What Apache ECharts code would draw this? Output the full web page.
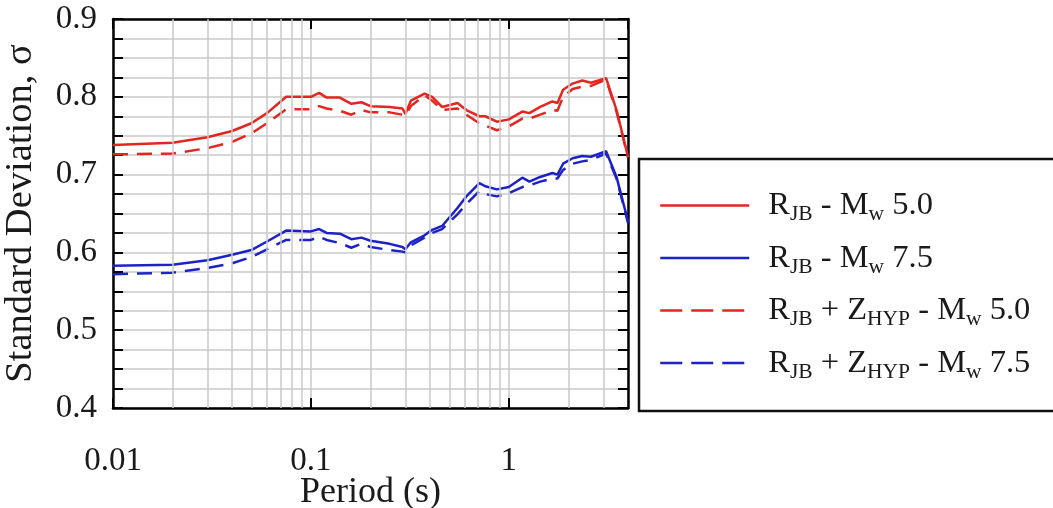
<!DOCTYPE html>
<html>
<head>
<meta charset="utf-8">
<script src="https://cdn.jsdelivr.net/npm/echarts@6/dist/echarts.min.js"></script>
<style>
html,body{margin:0;padding:0;background:#fff;}
#chart{width:1053px;height:508px;}
</style>
</head>
<body>
<div id="chart"></div>
<script>
// ---- data ----
var periods = [0.01, 0.02, 0.03, 0.04, 0.05, 0.06, 0.075, 0.1, 0.11, 0.12, 0.14, 0.16, 0.18, 0.2, 0.25, 0.29, 0.30, 0.32, 0.375, 0.41, 0.46, 0.55, 0.61, 0.71, 0.76, 0.87, 1.0, 1.17, 1.27, 1.44, 1.66, 1.76, 1.88, 2.1, 2.35, 2.6, 3.1, 3.5, 4.0];
var rjbMw50 = [0.738, 0.741, 0.748, 0.756, 0.766, 0.779, 0.800, 0.800, 0.805, 0.799, 0.799, 0.791, 0.793, 0.788, 0.787, 0.785, 0.778, 0.795, 0.804, 0.800, 0.787, 0.792, 0.783, 0.775, 0.775, 0.768, 0.771, 0.781, 0.779, 0.787, 0.794, 0.792, 0.809, 0.817, 0.821, 0.818, 0.824, 0.783, 0.723];
var rjbMw75 = [0.583, 0.584, 0.590, 0.597, 0.603, 0.614, 0.628, 0.627, 0.630, 0.625, 0.624, 0.617, 0.619, 0.615, 0.611, 0.607, 0.604, 0.613, 0.622, 0.629, 0.634, 0.657, 0.672, 0.689, 0.685, 0.681, 0.684, 0.696, 0.691, 0.697, 0.702, 0.700, 0.714, 0.721, 0.724, 0.723, 0.730, 0.697, 0.640];
var rjbZhypMw50 = [0.726, 0.727, 0.734, 0.742, 0.753, 0.766, 0.784, 0.784, 0.788, 0.785, 0.782, 0.777, 0.783, 0.780, 0.780, 0.777, 0.776, 0.788, 0.802, 0.795, 0.783, 0.785, 0.777, 0.766, 0.763, 0.757, 0.762, 0.772, 0.772, 0.777, 0.783, 0.782, 0.800, 0.810, 0.813, 0.814, 0.822, 0.781, 0.722];
var rjbZhypMw75 = [0.572, 0.574, 0.580, 0.586, 0.594, 0.604, 0.616, 0.616, 0.620, 0.616, 0.612, 0.606, 0.611, 0.607, 0.603, 0.601, 0.600, 0.609, 0.619, 0.625, 0.630, 0.649, 0.662, 0.679, 0.675, 0.672, 0.676, 0.684, 0.686, 0.691, 0.695, 0.695, 0.706, 0.714, 0.717, 0.719, 0.727, 0.695, 0.638];

var seriesNames = ['RJB - Mw 5.0', 'RJB - Mw 7.5', 'RJB + ZHYP - Mw 5.0', 'RJB + ZHYP - Mw 7.5'];
var legendLabels = [
  '{g|}{m|R}{s|JB}{m| - M}{s|w}{m| 5.0}',
  '{g|}{m|R}{s|JB}{m| - M}{s|w}{m| 7.5}',
  '{g|}{m|R}{s|JB}{m| + Z}{s|HYP}{m| - M}{s|w}{m| 5.0}',
  '{g|}{m|R}{s|JB}{m| + Z}{s|HYP}{m| - M}{s|w}{m| 7.5}'
];
var xTickValues = [0.01, 0.1, 1];
var yTickValues = [0.4, 0.5, 0.6, 0.7, 0.8, 0.9];
var xMinorGrid = [0.02, 0.03, 0.04, 0.05, 0.06, 0.07, 0.08, 0.09, 0.2, 0.3, 0.4, 0.5, 0.6, 0.7, 0.8, 0.9, 2, 3];

// ---- chart ----
var FONT = '"Liberation Serif", "Times New Roman", serif';
var RED = '#e3261f', BLUE = '#1c22c8', GRID = '#c9c9c9', INK = '#1a1a1a';
function pairs(vals){ return periods.map(function(p,i){ return [p, vals[i]]; }); }
var seriesVals = [rjbMw50, rjbMw75, rjbZhypMw50, rjbZhypMw75];
var colors = [RED, BLUE, RED, BLUE];
var dashed = [false, false, true, true];

var chart = echarts.init(document.getElementById('chart'), null, {renderer:'canvas'});
var axisLineStyle = {color:'#000', width:2.5};
var tickStyle = {color:'#000', width:2};

var series = [{
  type:'line', name:'_grid', data:[], z:1, silent:true,
  markLine:{ silent:true, symbol:['none','none'], label:{show:false},
    lineStyle:{color:GRID, width:1.5, type:'solid'}, animation:false,
    data: xMinorGrid.map(function(v){ return {xAxis:v}; }) }
}];
seriesVals.forEach(function(vals, i){
  series.push({
    type:'line', name:seriesNames[i], data:pairs(vals), symbol:'none', showSymbol:false, z:3,
    lineStyle:{color:colors[i], width:2.5, type: dashed[i] ? [15,9] : 'solid'},
    itemStyle:{color:colors[i], opacity:0}
  });
});

var option = {
  animation:false,
  backgroundColor:'#fff',
  grid:{left:113, right:425, top:19, bottom:100, containLabel:false, outerBoundsMode:'none'},
  xAxis:[{
    type:'log', logBase:10, min:0.01, max:4, position:'bottom',
    name:'Period (s)', nameLocation:'middle', nameGap:67, nameMoveOverlap:false,
    nameTextStyle:{fontFamily:FONT, fontSize:36, color:INK},
    axisLine:{show:true, lineStyle:axisLineStyle},
    axisTick:{show:true, inside:true, length:10, lineStyle:tickStyle},
    axisLabel:{show:true, margin:37, fontFamily:FONT, fontSize:33, color:INK, showMaxLabel:false,
      formatter:function(v){ var r = +(+v).toPrecision(3); return xTickValues.indexOf(r) >= 0 ? String(r) : ''; }},
    splitLine:{show:true, lineStyle:{color:GRID, width:1.5}}
  },{
    type:'log', logBase:10, min:0.01, max:4, position:'top',
    axisLine:{show:true, lineStyle:axisLineStyle},
    axisTick:{show:true, inside:true, length:10, lineStyle:tickStyle},
    axisLabel:{show:false}, splitLine:{show:false}
  }],
  yAxis:[{
    type:'value', min:0.4, max:0.9, interval:0.1, position:'left',
    name:'Standard Deviation, σ', nameLocation:'middle', nameGap:73, nameRotate:90,
    nameTextStyle:{fontFamily:FONT, fontSize:38.5, color:INK},
    axisLine:{show:true, lineStyle:axisLineStyle},
    axisTick:{show:true, inside:true, length:10, lineStyle:tickStyle},
    minorTick:{show:true, splitNumber:4, length:10, lineStyle:tickStyle},
    axisLabel:{show:true, margin:16, fontFamily:FONT, fontSize:33, color:INK,
      formatter:function(v){ var r = +(+v).toFixed(1); return yTickValues.indexOf(r) >= 0 ? r.toFixed(1) : ''; }},
    splitLine:{show:true, lineStyle:{color:GRID, width:1.5}},
    minorSplitLine:{show:true, lineStyle:{color:GRID, width:1.5}}
  },{
    type:'value', min:0.4, max:0.9, interval:0.1, position:'right',
    axisLine:{show:true, lineStyle:axisLineStyle},
    axisTick:{show:true, inside:true, length:10, lineStyle:tickStyle},
    minorTick:{show:true, splitNumber:4, length:10, lineStyle:tickStyle},
    axisLabel:{show:false}, splitLine:{show:false}
  }],
  legend:{
    orient:'vertical', left:639, top:159,
    padding:[30, 200, 28, 20],
    itemWidth:89, itemHeight:14, itemGap:16,
    borderColor:'#111', borderWidth:2.5, backgroundColor:'#fff',
    itemStyle:{opacity:0},
    data: seriesNames.map(function(n, i){
      return {name:n, itemStyle:{opacity:0},
        lineStyle:{width:2.5, opacity:1, type: dashed[i] ? [22,9] : 'solid'}};
    }),
    formatter:function(name){ return legendLabels[seriesNames.indexOf(name)]; },
    textStyle:{fontFamily:FONT, color:INK,
      rich:{
        g:{width:14},
        m:{fontFamily:FONT, fontSize:32.5, lineHeight:40, verticalAlign:'middle', color:INK},
        s:{fontFamily:FONT, fontSize:21.5, lineHeight:18, verticalAlign:'bottom', color:INK}
      }}
  },
  series:series
};
chart.setOption(option);
</script>
</body>
</html>
